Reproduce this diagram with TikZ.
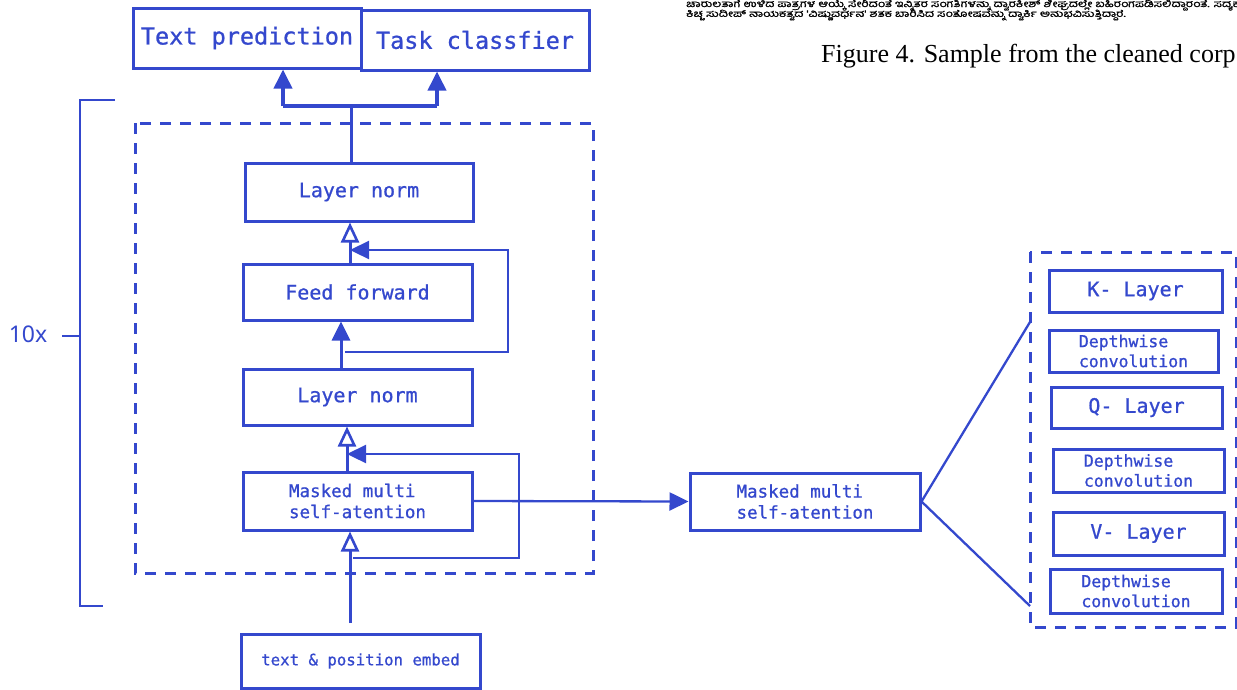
\documentclass[tikz,border=0pt]{standalone}
\usepackage{fontspec}
\setmainfont{Liberation Serif}
\newfontfamily\monofont[FakeBold=0.9]{DejaVu Sans Mono}
\newfontfamily\handfont{Noto Sans}
\newfontfamily\kannadafont[Script=Kannada,FakeBold=1.2]{Hind Mysuru}
\usetikzlibrary{arrows.meta,calc}
\definecolor{ink}{RGB}{52,72,205}

\begin{document}
\begin{tikzpicture}[x=1pt,y=-1pt,
  box/.style={draw=ink, line width=3pt, text=ink, inner sep=0pt, align=center},
  bigfont/.style={font=\monofont\fontsize{23.5}{26}\selectfont},
  midfont/.style={font=\monofont\fontsize{20}{23}\selectfont},
  smallfont/.style={font=\monofont\fontsize{17.5}{21}\selectfont},
  tinyfont/.style={font=\monofont\fontsize{16.5}{20}\selectfont},
  wire/.style={draw=ink, line width=3pt},
  thinwire/.style={draw=ink, line width=2.3pt},
  solidtip/.style={-{Triangle[length=19pt,width=18pt]}},
  hollowtip/.style={-{Triangle[open,length=20pt,width=18pt,line width=2.6pt]}},
  frame/.style={draw=ink, line width=3pt, dash pattern=on 11pt off 9pt},
]
\useasboundingbox (0,0) rectangle (1237,689);

% corpus sample text and caption, trimmed at the page edge
\begin{scope}
\clip (0,0) rectangle (1237,689);
\node[anchor=west, inner sep=0pt, font=\kannadafont\fontsize{9.5}{10}\selectfont] (kn1) at (686,5)
  {\scalebox{1.32}[1]{ಚಾರುಲತಾಗೆ ಉಳಿದ ಪಾತ್ರಗಳ ಆಯ್ಕೆ ಸೇರಿದಂತೆ ಇನ್ನಿತರ ಸಂಗತಿಗಳನ್ನು ದ್ವಾರಕೀಶ್ ಶೀಘ್ರದಲ್ಲೇ ಬಹಿರಂಗಪಡಿಸಲಿದ್ದಾರಂತೆ. ಸದ್ಯಕ್ಕೆ}};
\node[anchor=west, inner sep=0pt, font=\kannadafont\fontsize{9.5}{10}\selectfont] (kn2) at (686,15)
  {\scalebox{1.32}[1]{ಕಿಚ್ಚ ಸುದೀಪ್ ನಾಯಕತ್ವದ 'ವಿಷ್ಣುವರ್ಧನ' ಶತಕ ಬಾರಿಸಿದ ಸಂತೋಷವನ್ನು ದ್ವಾರ್ಕಿ ಅನುಭವಿಸುತ್ತಿದ್ದಾರೆ.}};
\node[anchor=base west, inner sep=0pt, font=\fontsize{26}{29}\selectfont] (cap) at (821,62)
  {Figure 4. Sample from the cleaned corp};
\end{scope}

% output heads
\node[box, bigfont, minimum width=228pt, minimum height=60pt] (tp) at (247,38) {Text prediction};
\node[box, bigfont, minimum width=228pt, minimum height=60pt] (tc) at (475,40) {Task classfier};

% repeated decoder block
\draw[frame] (135,123) rectangle (593,573);
\node[box, midfont, minimum width=228pt, minimum height=58pt] (ln2) at (359,192) {Layer norm};
\node[box, midfont, minimum width=229pt, minimum height=56pt] (ff) at (357.5,292) {Feed forward};
\node[box, midfont, minimum width=229pt, minimum height=56pt] (ln1) at (357.5,397) {Layer norm};
\node[box, smallfont, minimum width=229pt, minimum height=58pt, align=left] (mha) at (357.5,501) {Masked multi\\self-atention};
\node[box, font=\monofont\fontsize{15.7}{18}\selectfont, minimum width=239pt, minimum height=54pt] (emb) at (360.5,661) {text \& position embed};

% repetition bracket
\coordinate (bt) at (80,100);
\coordinate (bb) at (80,606);
\draw[wire, line width=2.4pt] (115,100) -- (bt) -- (bb) -- (103,606);
\coordinate (bm) at (80,336);
\node[text=ink, font=\handfont\fontsize{23}{25}\selectfont, inner sep=0pt] (rep) at (28,334) {10x};
\draw[wire, line width=2.2pt] (62,336) -- (bm);

% head fan-out
\coordinate (j) at (351,106);
\coordinate (jl) at (283,106);
\coordinate (jr) at (437,106);
\draw[wire] (ln2.north -| j) -- (j);
\draw[wire, line width=3.8pt] (jl) -- (jr);
\draw[wire, line width=3.8pt, solidtip] (jl) -- (jl |- tp.south);
\draw[wire, line width=3.8pt, solidtip] (jr) -- (jr |- tc.south);

% feed forward sub-layer
\coordinate (s3) at (350,0);
\draw[wire, hollowtip] (ff.north -| s3) -- (ln2.south -| s3);
\coordinate (r2a) at (345,352);
\coordinate (r2b) at (508,250);
\draw[thinwire, solidtip] (r2a) -| (r2b) -- (r2b -| s3);
\coordinate (s2) at (341,0);
\draw[wire, solidtip] (ln1.north -| s2) -- (ff.south -| s2);

% attention sub-layer
\coordinate (s1) at (347,0);
\draw[wire, hollowtip] (mha.north -| s1) -- (ln1.south -| s1);
\coordinate (r1a) at (353,558);
\coordinate (r1b) at (519,454);
\draw[thinwire, solidtip] (r1a) -| (r1b) -- (r1b -| s1);
\coordinate (s0) at (350,623);
\draw[wire, hollowtip] (s0) -- (mha.south -| s0);

% attention detail
\node[box, smallfont, minimum width=230pt, minimum height=57pt, align=left] (mha2) at (805,501.5) {Masked multi\\self-atention};
\draw[thinwire, solidtip] (mha.east) -- (mha2.west);
\draw[frame] (1030,252) rectangle (1236,627);
\coordinate (fu) at (1030,322);
\coordinate (fd) at (1030,606);
\draw[thinwire] (fu) -- (mha2.east) -- (fd);
\node[box, midfont, minimum width=173pt, minimum height=42pt] (kl) at (1135.5,291) {K- Layer};
\node[box, tinyfont, minimum width=169pt, minimum height=42pt, align=left] (dw1) at (1133.5,351) {Depthwise\\convolution};
\node[box, midfont, minimum width=171pt, minimum height=41pt] (ql) at (1136.5,407.5) {Q- Layer};
\node[box, tinyfont, minimum width=171pt, minimum height=43pt, align=left] (dw2) at (1138.5,470.5) {Depthwise\\convolution};
\node[box, midfont, minimum width=171pt, minimum height=43pt] (vl) at (1138.5,533.5) {V- Layer};
\node[box, tinyfont, minimum width=172pt, minimum height=44pt, align=left] (dw3) at (1136,591) {Depthwise\\convolution};
\end{tikzpicture}
\end{document}
